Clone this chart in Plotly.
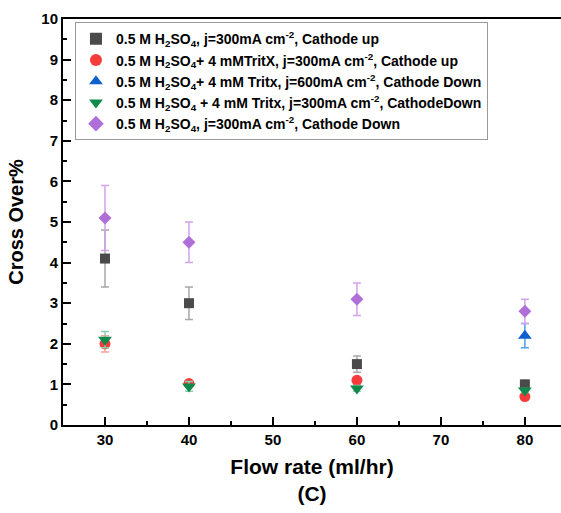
import plotly.graph_objects as go

flow = [30, 40, 60, 80]

sq_y = [4.1, 3.0, 1.5, 1.0]
sq_e = [0.7, 0.4, 0.2, 0.1]

red_y = [2.0, 1.02, 1.1, 0.7]
red_e = [0.2, 0.05, 0.05, 0.05]

blue_x = [80]
blue_y = [2.2]
blue_e = [0.3]

grn_y = [2.1, 0.95, 0.9, 0.85]
grn_e = [0.2, 0.12, 0.07, 0.05]

pur_y = [5.1, 4.5, 3.1, 2.8]
pur_e = [0.8, 0.5, 0.4, 0.3]

names = [
    "<b>0.5 M H<sub>2</sub>SO<sub>4</sub>, j=300mA cm<sup>-2</sup>, Cathode up</b>",
    "<b>0.5 M H<sub>2</sub>SO<sub>4</sub>+ 4 mMTritX, j=300mA cm<sup>-2</sup>, Cathode up</b>",
    "<b>0.5 M H<sub>2</sub>SO<sub>4</sub>+ 4 mM Tritx, j=600mA cm<sup>-2</sup>, Cathode Down</b>",
    "<b>0.5 M H<sub>2</sub>SO<sub>4</sub> + 4 mM Tritx, j=300mA cm<sup>-2</sup>, CathodeDown</b>",
    "<b>0.5 M H<sub>2</sub>SO<sub>4</sub>, j=300mA cm<sup>-2</sup>, Cathode Down</b>",
]

series = [
    (flow, sq_y, sq_e, "square", "#4a4a4a", "#a8a8a8", 10),
    (flow, red_y, red_e, "circle", "#f53b3b", "#f7a0a0", 11),
    (blue_x, blue_y, blue_e, "triangle-up", "#0e5fd0", "#4f9ff0", 12),
    (flow, grn_y, grn_e, "triangle-down", "#10894c", "#8ccfb0", 12),
    (flow, pur_y, pur_e, "diamond", "#b06fd8", "#d3a3ea", 10),
]

fig = go.Figure()
for (xs, ys, es, sym, col, ecol, sz), nm in zip(series, names):
    fig.add_trace(go.Scatter(
        x=xs, y=ys, mode="markers", name=nm,
        marker=dict(symbol=sym, color=col, size=sz, line=dict(width=0)),
        error_y=dict(type="data", array=es, visible=True, color=ecol,
                     thickness=1.5, width=4),
    ))

font_fam = "Arial, Liberation Sans, sans-serif"
fig.update_layout(
    width=561, height=513,
    margin=dict(l=63, r=0, t=19, b=88),
    plot_bgcolor="white", paper_bgcolor="white",
    font=dict(family=font_fam, color="black"),
    showlegend=True,
    legend=dict(
        x=0.024, y=0.992, xanchor="left", yanchor="top",
        bgcolor="white", bordercolor="#999999", borderwidth=1,
        font=dict(size=14, family=font_fam, color="black"),
        tracegroupgap=0, itemsizing="constant",
    ),
    xaxis=dict(
        range=[25, 84.3], tickvals=[30, 40, 50, 60, 70, 80],
        ticks="inside", ticklen=8, tickwidth=1.5, tickcolor="black",
        minor=dict(tickvals=[35, 45, 55, 65, 75], ticks="inside", ticklen=4, tickwidth=1.5, tickcolor="black"),
        showline=True, linecolor="black", linewidth=2, mirror=True,
        showgrid=False, zeroline=False,
        tickfont=dict(size=15, family=font_fam, color="black", weight="bold"),
        title=dict(text="<b>Flow rate (ml/hr)<br>(C)</b>", font=dict(size=21, family=font_fam), standoff=12),
    ),
    yaxis=dict(
        range=[0, 10], dtick=1,
        ticks="inside", ticklen=8, tickwidth=1.5, tickcolor="black",
        minor=dict(dtick=0.5, ticks="inside", ticklen=4, tickwidth=1.5, tickcolor="black"),
        showline=True, linecolor="black", linewidth=2, mirror=False,
        showgrid=False, zeroline=False,
        tickfont=dict(size=15, family=font_fam, color="black", weight="bold"),
        title=dict(text="<b>Cross Over%</b>", font=dict(size=20, family=font_fam), standoff=12),
    ),
)

fig.write_html("out.html")
